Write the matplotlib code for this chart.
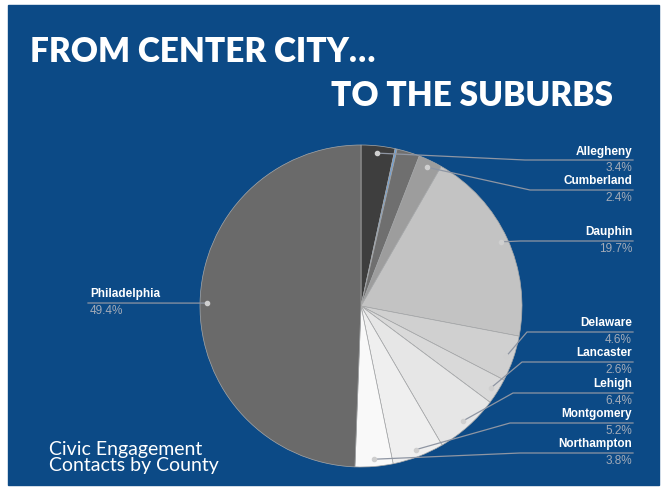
import matplotlib
matplotlib.use("Agg")
import matplotlib.pyplot as plt
import numpy as np

# share of civic engagement contacts by county (clockwise from top)
counties = ["Allegheny", "", "", "Cumberland", "Dauphin", "Delaware",
            "Lancaster", "Lehigh", "Montgomery", "Northampton", "Philadelphia"]
shares = [3.4, 0.2, 2.3, 2.4, 19.7, 4.6, 2.6, 6.4, 5.2, 3.8, 49.4]
slice_colors = ["#3e3e3e", "#6a9fd8", "#6f6f6f", "#9d9d9d", "#c3c3c3", "#d0d0d0",
                "#d9d9d9", "#e6e6e6", "#efefef", "#f9f9f9", "#6a6a6a"]

W, H = 665, 488
BLUE = "#0c4a86"


def Y(py):
    # pixel row -> data y
    return H - py


fig = plt.figure(figsize=(W / 100, H / 100), dpi=100, facecolor="white")
ax = fig.add_axes([0, 0, 1, 1])

ax.add_patch(plt.Rectangle((8, Y(485)), 651, 480, color=BLUE, zorder=0))

cx, cy, r = 361, Y(306), 161
wedges, _ = ax.pie(shares, colors=slice_colors, startangle=90, counterclock=False,
                   center=(cx, cy), radius=r, frame=True,
                   wedgeprops=dict(edgecolor="#a8a8a8", linewidth=0.5))
ax.set_xlim(0, W)
ax.set_ylim(0, H)
ax.set_aspect("equal")
ax.axis("off")

# label layout: y of the rule under each name (pixels), x of elbow
rule_y = {"Allegheny": 160, "Cumberland": 190, "Dauphin": 241, "Delaware": 332,
          "Lancaster": 362, "Lehigh": 393, "Montgomery": 423, "Northampton": 453,
          "Philadelphia": 303}
elbow_x = {"Allegheny": 525, "Cumberland": 530, "Dauphin": 520, "Delaware": 527,
           "Lancaster": 522, "Lehigh": 513, "Montgomery": 510, "Northampton": 520}

line_col = "#8f96a3"
pct_col = "#a3abb8"
bold = dict(family="Liberation Sans", fontweight="bold", fontsize=8.5, color="white")
norm = dict(family="Liberation Sans", fontsize=8.5, color=pct_col)

for w, name, val in zip(wedges, counties, shares):
    if not name:
        continue
    mid = np.deg2rad((w.theta1 + w.theta2) / 2)
    dx = cx + 0.955 * r * np.cos(mid)
    dy = cy + 0.955 * r * np.sin(mid)
    ly = Y(rule_y[name])
    if name == "Philadelphia":
        ax.plot([dx, 88], [dy, ly], color=line_col, lw=0.9, zorder=3)
        ax.text(90, ly + 2.5, name, ha="left", va="bottom", **bold)
        ax.text(90, ly - 2, f"{val}%", ha="left", va="top", **norm)
    else:
        ex = elbow_x[name]
        ax.plot([dx, ex, 633], [dy, ly, ly], color=line_col, lw=0.9, zorder=3)
        ax.text(632, ly + 2.5, name, ha="right", va="bottom", **bold)
        ax.text(632, ly - 2, f"{val}%", ha="right", va="top", **norm)
    ax.plot(dx, dy, "o", ms=3, color="#cfcfcf", zorder=4)

title = dict(family="Lato", fontweight="heavy", fontsize=24, color="white")
ax.text(30, Y(62), "FROM CENTER CITY\u2026", ha="left", va="baseline", **title)
ax.text(613, Y(106), "TO THE SUBURBS", ha="right", va="baseline", **title)

ax.text(49, Y(471), "Civic Engagement\nContacts by County", ha="left", va="baseline",
        family="Lato", fontsize=14, color="white", linespacing=0.92, zorder=5)

fig.savefig("out.png", dpi=100, facecolor="white")
